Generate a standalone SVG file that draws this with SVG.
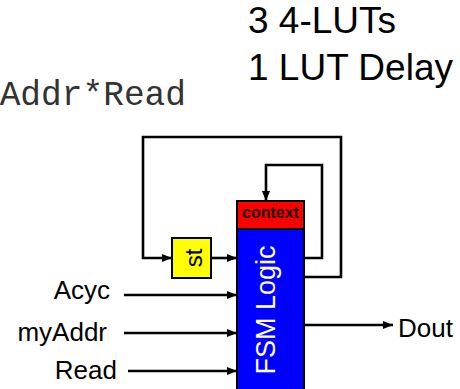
<svg xmlns="http://www.w3.org/2000/svg" width="460" height="389" viewBox="0 0 460 389">
<style>
.w{fill:none;stroke:#000;stroke-width:2.6}
.lbl{font-family:"Liberation Sans",Arial,sans-serif;font-size:26px;fill:#000}
.big{font-family:"Liberation Sans",Arial,sans-serif;font-size:37px;fill:#000}
.mono{font-family:"Liberation Mono","Courier New",monospace;font-size:34.5px;fill:#333}
</style>
<defs>
<marker id="ah" viewBox="0 0 10 8" refX="10" refY="4" markerWidth="10" markerHeight="8" markerUnits="userSpaceOnUse" orient="auto">
<path d="M0,0 L10,4 L0,8 z" fill="#000"/>
</marker>
</defs>
<rect width="460" height="389" fill="#fff"/>
<text class="big" x="248" y="33">3 4-LUTs</text>
<text class="big" x="248" y="80">1 LUT Delay</text>
<text class="mono" x="186" y="105" text-anchor="end">Addr*Read</text>
<g id="connectors">
<path class="w" d="M304,277 H341 V137 H143 V258 H172" marker-end="url(#ah)"/>
<path class="w" d="M304,258 H322 V165 H266 V201" marker-end="url(#ah)"/>
<path class="w" d="M211,258 H237" marker-end="url(#ah)"/>
<path class="w" d="M124,295 H237" marker-end="url(#ah)"/>
<path class="w" d="M124,333 H237" marker-end="url(#ah)"/>
<path class="w" d="M128,371 H237" marker-end="url(#ah)"/>
<path class="w" d="M304,325 H393" marker-end="url(#ah)"/>
</g>
<g id="fsm">
<rect x="237" y="229" width="67" height="170" fill="#0000ff" stroke="#000" stroke-width="2"/>
<text class="lbl" transform="translate(275,310) rotate(-90)" text-anchor="middle" style="fill:#fff;font-size:27px">FSM Logic</text>
</g>
<g id="context">
<rect x="237" y="201" width="67" height="28" fill="#ff0000" stroke="#000" stroke-width="2"/>
<text x="270.5" y="218" text-anchor="middle" font-family="Liberation Sans,Arial,sans-serif" font-weight="bold" font-size="16" fill="#200">context</text>
</g>
<g id="st">
<rect x="172" y="238" width="39" height="40" fill="#ffff00" stroke="#000" stroke-width="2"/>
<text class="lbl" transform="translate(202,258) rotate(-90)" text-anchor="middle" style="font-size:24px">st</text>
</g>
<g id="inputs">
<text class="lbl" x="110" y="299" text-anchor="end">Acyc</text>
<text class="lbl" x="107" y="341" text-anchor="end">myAddr</text>
<text class="lbl" x="117" y="379" text-anchor="end">Read</text>
<text class="lbl" x="398" y="337">Dout</text>
</g>
</svg>
